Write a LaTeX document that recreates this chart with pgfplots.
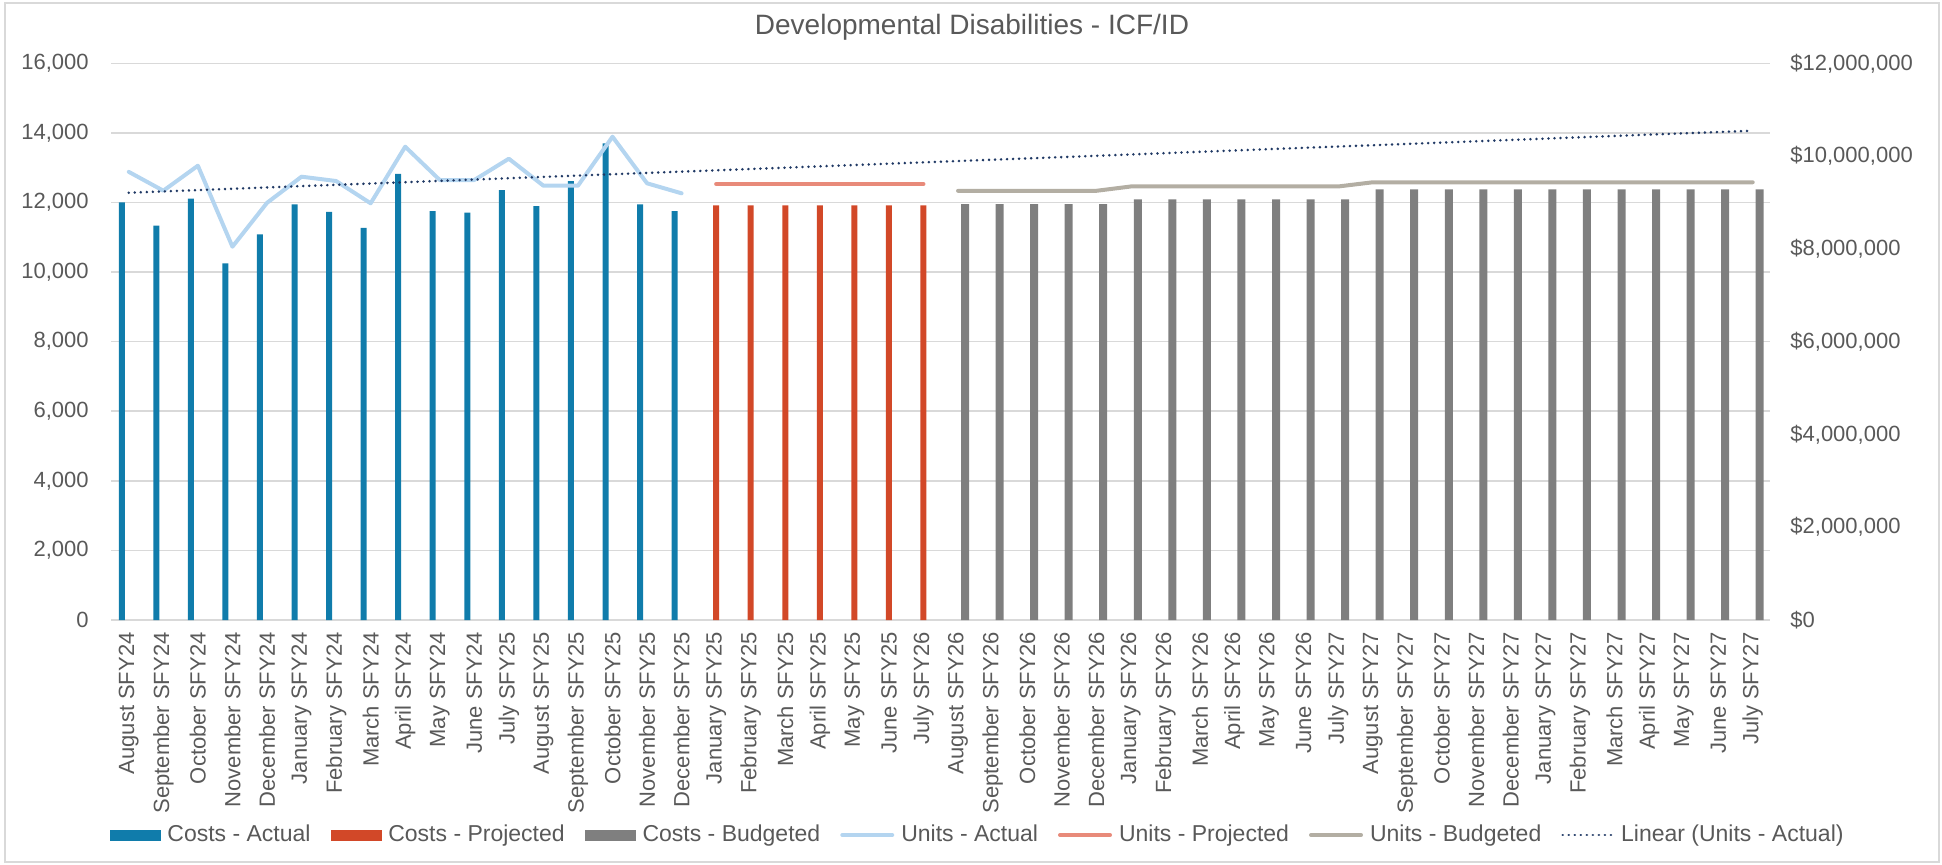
\documentclass[border=0pt]{standalone}
\usepackage{pgfplots}
\pgfplotsset{compat=1.18}
\usepackage{fontspec}
\setmainfont{Liberation Sans}
\definecolor{cA}{RGB}{16,124,171}
\definecolor{cP}{RGB}{210,72,40}
\definecolor{cB}{RGB}{127,127,127}
\definecolor{uA}{RGB}{180,213,240}
\definecolor{uP}{RGB}{232,138,122}
\definecolor{uB}{RGB}{179,174,163}
\definecolor{tr}{RGB}{31,56,100}
\definecolor{gridc}{RGB}{217,217,217}
\definecolor{txt}{RGB}{89,89,89}

\pgfplotstableread{
x y
0 9004000
1 8500000
2 9082000
3 7689000
4 8314000
5 8961000
6 8795000
7 8450000
8 9614000
9 8816000
10 8780000
11 9269000
12 8924000
13 9463000
14 10275000
15 8961000
16 8816000
}\costsactual
\pgfplotstableread{
x y
17 8940000
18 8940000
19 8940000
20 8940000
21 8940000
22 8940000
23 8940000
}\costsproj
\pgfplotstableread{
x y
24 8967000
25 8967000
26 8967000
27 8967000
28 8967000
29 9068000
30 9068000
31 9068000
32 9068000
33 9068000
34 9068000
35 9068000
36 9284000
37 9284000
38 9284000
39 9284000
40 9284000
41 9284000
42 9284000
43 9284000
44 9284000
45 9284000
46 9284000
47 9284000
}\costsbud
\pgfplotstableread{
x y
0 12880
1 12338
2 13057
3 10729
4 11989
5 12741
6 12617
7 11976
8 13603
9 12646
10 12646
11 13258
12 12482
13 12482
14 13890
15 12551
16 12263
}\unitsactual
\pgfplotstableread{
x y
17 12530
18 12530
19 12530
20 12530
21 12530
22 12530
23 12530
}\unitsproj
\pgfplotstableread{
x y
24 12335
25 12335
26 12335
27 12335
28 12335
29 12460
30 12460
31 12460
32 12460
33 12460
34 12460
35 12460
36 12580
37 12580
38 12580
39 12580
40 12580
41 12580
42 12580
43 12580
44 12580
45 12580
46 12580
47 12580
}\unitsbud

\begin{document}
\begin{tikzpicture}
\pgfplotsset{
  common/.style={
    scale only axis, width=829.25pt, height=278.35pt,
    xmin=-0.5, xmax=47.5,
    axis line style={draw=none},
    major tick length=0pt, minor tick length=0pt,
    scaled y ticks=false,
    tick label style={font=\fontsize{11}{13}\selectfont, text=txt, inner sep=0pt},
  }
}
\begin{axis}[common, name=ax,
  axis x line*=bottom, axis y line*=right,
  ymin=0, ymax=12000000,
  ytick={0,2000000,4000000,6000000,8000000,10000000,12000000},
  yticklabels={{\$0},{\$2,000,000},{\$4,000,000},{\$6,000,000},{\$8,000,000},{\$10,000,000},{\$12,000,000}},
  yticklabel shift=10pt,
  extra y ticks={0,1500000,3000000,4500000,6000000,7500000,9000000,10500000,12000000},
  extra y tick labels={},
  extra y tick style={grid=major, major grid style={gridc, line width=0.75pt}},
  xtick={0,...,47},
  xticklabels={August SFY24,September SFY24,October SFY24,November SFY24,December SFY24,January SFY24,February SFY24,March SFY24,April SFY24,May SFY24,June SFY24,July SFY25,August SFY25,September SFY25,October SFY25,November SFY25,December SFY25,January SFY25,February SFY25,March SFY25,April SFY25,May SFY25,June SFY25,July SFY26,August SFY26,September SFY26,October SFY26,November SFY26,December SFY26,January SFY26,February SFY26,March SFY26,April SFY26,May SFY26,June SFY26,July SFY27,August SFY27,September SFY27,October SFY27,November SFY27,December SFY27,January SFY27,February SFY27,March SFY27,April SFY27,May SFY27,June SFY27,July SFY27},
  xticklabel style={rotate=90, anchor=east},
  xticklabel shift=6pt,
]
\addplot[ybar, bar width=3pt, bar shift=-3.5pt, fill=cA, draw=none] table[x=x,y=y] {\costsactual};
\addplot[ybar, bar width=3pt, bar shift=0pt, fill=cP, draw=none] table[x=x,y=y] {\costsproj};
\addplot[ybar, bar width=4pt, bar shift=3.5pt, fill=cB, draw=none] table[x=x,y=y] {\costsbud};
\end{axis}

\begin{axis}[common,
  axis x line=none, axis y line*=left,
  xtick=\empty,
  ymin=0, ymax=16000,
  ytick={0,2000,4000,6000,8000,10000,12000,14000,16000},
  yticklabels={{0},{2,000},{4,000},{6,000},{8,000},{10,000},{12,000},{14,000},{16,000}},
  yticklabel shift=11.25pt,
  legend columns=7,
  legend cell align=left,
  legend image code/.code={\draw[#1] (0pt,0pt) -- (25pt,0pt);},
  legend style={at={(0.5216,-0.3862)}, anchor=center, draw=none, fill=none,
    font=\fontsize{11.5}{13}\selectfont, text=txt, inner sep=0pt,
    nodes={inner sep=0pt},
    /tikz/every odd column/.append style={column sep=3.5pt},
    /tikz/every even column/.append style={column sep=10pt}},
]
\addlegendimage{legend image code/.code={\fill[cA] (0pt,-2.5pt) rectangle (25pt,2.5pt);}}
\addlegendentry{Costs - Actual}
\addlegendimage{legend image code/.code={\fill[cP] (0pt,-2.5pt) rectangle (25pt,2.5pt);}}
\addlegendentry{Costs - Projected}
\addlegendimage{legend image code/.code={\fill[cB] (0pt,-2.5pt) rectangle (25pt,2.5pt);}}
\addlegendentry{Costs - Budgeted}
\addplot[uA, line width=2pt, line join=round, line cap=round, mark=none] table[x=x,y=y] {\unitsactual};
\addlegendentry{Units - Actual}
\addplot[uP, line width=2pt, line join=round, line cap=round, mark=none] table[x=x,y=y] {\unitsproj};
\addlegendentry{Units - Projected}
\addplot[uB, line width=2pt, line join=round, line cap=round, mark=none] table[x=x,y=y] {\unitsbud};
\addlegendentry{Units - Budgeted}
\addplot[tr, line width=1.4pt, line cap=round, dash pattern=on 0.01pt off 3pt, mark=none] coordinates {(0,12280) (47,14063)};
\addlegendentry{Linear (Units - Actual)}
\end{axis}

\node[font=\fontsize{14}{16}\selectfont, text=txt] at ([shift={(430.25pt,296.5pt)}]ax.south west) {Developmental Disabilities - ICF/ID};
\path ([shift={(-55.75pt,-122pt)}]ax.south west) rectangle ([shift={(915.25pt,310pt)}]ax.south west);
\draw[gridc, line width=0.75pt] ([shift={(-53.25pt,-121pt)}]ax.south west) rectangle ([shift={(913.75pt,308.5pt)}]ax.south west);
\end{tikzpicture}
\end{document}
